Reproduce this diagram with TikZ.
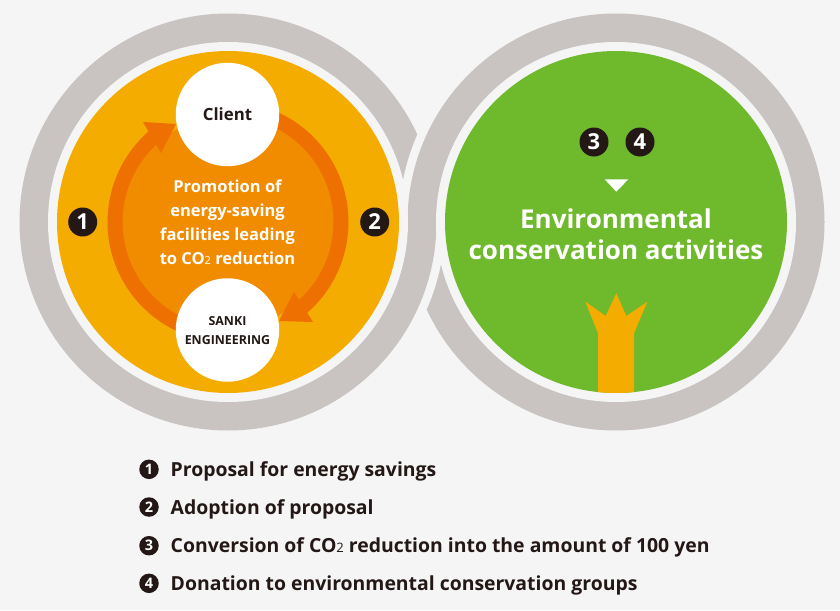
\documentclass[tikz,border=0pt]{standalone}
\usepackage{fontspec}
\setmainfont{Open Sans}
\definecolor{bgc}{HTML}{F5F5F5}
\definecolor{ringc}{HTML}{C9C4C1}
\definecolor{amber}{HTML}{F5AC00}
\definecolor{leaf}{HTML}{6FB92C}
\definecolor{innerc}{HTML}{F18B00}
\definecolor{arrowc}{HTML}{EE7000}
\definecolor{ink}{HTML}{231815}
\newcommand{\fs}[1]{\fontsize{#1}{#1}\selectfont\bfseries}
\newcommand{\subtwo}[1]{{\fontsize{#1}{#1}\selectfont\mdseries 2}}
\tikzset{
  x=1pt,y=-1pt,
  badge/.style={circle,fill=ink,text=white,inner sep=0pt,minimum size=29pt,font=\fs{22}},
  smallbadge/.style={circle,fill=ink,text=white,inner sep=0pt,minimum size=19.5pt,font=\fs{14.5}},
  legend/.style={anchor=base west,inner sep=0pt,text=ink,font=\fs{19.4}},
  centertext/.style={anchor=base,inner sep=0pt,text=white,font=\fs{16.5}},
  bigtext/.style={anchor=base,inner sep=0pt,text=white,font=\fs{26}},
  actor/.style={circle,fill=white,inner sep=0pt,minimum size=103.5pt},
  actortext/.style={anchor=base,inner sep=0pt,text=ink},
}
\begin{document}
\begin{tikzpicture}
\useasboundingbox (0,0) rectangle (840,610);
\fill[bgc] (0,0) rectangle (840,610);
\coordinate (L) at (228,222);
\coordinate (R) at (616,222);
% interlocked rings
\fill[ringc] (L) circle[radius=208.5];
\begin{scope}
  \clip (0,0) rectangle (840,222);
  \fill[bgc] (R) circle[radius=217];
  \fill[ringc] (R) circle[radius=208.5];
\end{scope}
\begin{scope}
  \clip (0,222) rectangle (840,610);
  \fill[ringc] (R) circle[radius=208.5];
  \fill[bgc] (L) circle[radius=217];
  \fill[ringc] (L) circle[radius=208.5];
\end{scope}
\fill[bgc] (L) circle[radius=180];
\fill[bgc] (R) circle[radius=180];
\fill[amber] (L) circle[radius=171];
\fill[leaf] (R) circle[radius=171];
% centre disc and cycle arrows
\fill[innerc] (L) circle[radius=106];
\draw[arrowc,line width=15pt] ([shift={(-130:113)}]L) arc[start angle=-130,end angle=-270,radius=113];
\fill[arrowc] (143,122) -- (176,124) -- (161,153) -- cycle;
\draw[arrowc,line width=15pt] ([shift={(50:113)}]L) arc[start angle=50,end angle=-90,radius=113];
\fill[arrowc] (313,322) -- (279,321) -- (294,292) -- cycle;
\node[actor] (client) at (227.5,114.5) {};
\node[actor] (sanki) at (227.5,330) {};
\node[actortext,font=\fs{16.8}] (clienttext) at (227.5,120) {Client};
\node[actortext,font=\fs{12.4}] (sankitext) at (227.5,325) {SANKI};
\node[actortext,font=\fs{12.4}] (engtext) at (227.5,344) {ENGINEERING};
\node[centertext] (c1) at (227.5,192.7) {Promotion of};
\node[centertext] (c2) at (227.5,216.7) {energy-saving};
\node[centertext] (c3) at (227.5,240.7) {facilities leading};
\node[centertext] (c4) at (227.5,264.7) {to CO\subtwo{11} reduction};
\node[badge] (b1) at (82.7,222) {1};
\node[badge] (b2) at (374.7,222) {2};
% right circle
\node[badge] (b3) at (594,142) {3};
\node[badge] (b4) at (640,142) {4};
\fill[white] (604.7,179.3) -- (628.3,179.3) -- (616.3,191.7) -- cycle;
\node[bigtext] (e1) at (616,228) {Environmental};
\node[bigtext] (e2) at (616,259.5) {conservation activities};
\begin{scope}
  \clip (R) circle[radius=171];
  \fill[amber] (585.3,301.7) -- (605.7,316) -- (616.3,293.3) -- (626.3,316) -- (647.3,301.7) -- (634,333.3) -- (634,400) -- (598,400) -- (598,333.3) -- cycle;
\end{scope}
% legend
\node[smallbadge] (l1) at (149,469.3) {1};
\node[smallbadge] (l2) at (149,507) {2};
\node[smallbadge] (l3) at (149,545.7) {3};
\node[smallbadge] (l4) at (149,583.3) {4};
\node[legend] (t1) at (170.5,476) {Proposal for energy savings};
\node[legend] (t2) at (170.5,514) {Adoption of proposal};
\node[legend] (t3) at (170.5,552.7) {Conversion of CO\subtwo{13} reduction into the amount of 100 yen};
\node[legend] (t4) at (170.5,590) {Donation to environmental conservation groups};
\end{tikzpicture}
\end{document}
